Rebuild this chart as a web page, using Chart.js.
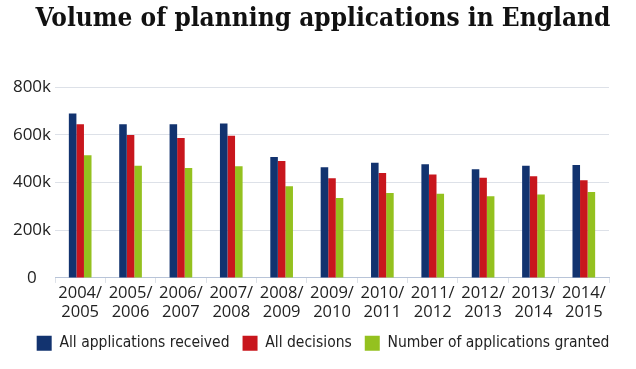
<!DOCTYPE html>
<html>
<head>
<meta charset="utf-8">
<script src="https://cdn.jsdelivr.net/npm/chart.js@4/dist/chart.umd.min.js"></script>
<style>
  html, body { margin: 0; padding: 0; background: #fff; }
  #wrap { width: 636px; height: 369px; position: relative; }
</style>
</head>
<body>
<div id="wrap"><canvas id="chart"></canvas></div>
<script>
// Volume of planning applications in England
const YEARS = [
  ['2004/', '2005'], ['2005/', '2006'], ['2006/', '2007'], ['2007/', '2008'],
  ['2008/', '2009'], ['2009/', '2010'], ['2010/', '2011'], ['2011/', '2012'],
  ['2012/', '2013'], ['2013/', '2014'], ['2014/', '2015']
];
const RECEIVED  = [690000, 645000, 645000, 648000, 507000, 464000, 483000, 477000, 456000, 471000, 474000];
const DECISIONS = [645000, 599000, 587000, 596000, 490000, 418000, 440000, 434000, 420000, 426000, 410000];
const GRANTED   = [515000, 471000, 461000, 468000, 385000, 335000, 356000, 353000, 343000, 350000, 360000];
const Y_TICKS   = [0, 200000, 400000, 600000, 800000];

const COL_BLUE  = '#12336f';
const COL_RED   = '#c8161d';
const COL_GREEN = '#94c11f';
const TXT = '#222222';
const GRID = '#dde1e8';

new Chart(document.getElementById('chart'), {
  type: 'bar',
  data: {
    labels: YEARS,
    datasets: [
      { label: 'All applications received', data: RECEIVED, backgroundColor: COL_BLUE },
      { label: 'All decisions', data: DECISIONS, backgroundColor: COL_RED },
      { label: 'Number of applications granted', data: GRANTED, backgroundColor: COL_GREEN },
    ],
  },
  options: {
    responsive: true,
    maintainAspectRatio: false,
    animation: false,
    datasets: { bar: { barPercentage: 1, categoryPercentage: 0.45 } },
    layout: { padding: { left: 10, right: 0, top: 4, bottom: 8 } },
    plugins: {
      title: {
        display: true,
        text: 'Volume of planning applications in England',
        color: '#111',
        font: { family: "'DejaVu Serif Condensed', 'DejaVu Serif', serif", size: 26, weight: 'bold' },
        padding: { top: 0, bottom: 52 },
      },
      legend: {
        position: 'bottom',
        labels: {
          color: TXT,
          boxWidth: 15,
          boxHeight: 15,
          padding: 13,
          font: { family: "'DejaVu Sans Condensed', sans-serif", size: 15.5 },
        },
      },
      tooltip: { enabled: false },
    },
    scales: {
      x: {
        grid: { drawOnChartArea: false, drawTicks: true, tickLength: 5, color: GRID, offset: true },
        border: { color: '#b8c4d8' },
        ticks: { color: TXT, font: { family: "'Open Sans', sans-serif", size: 16.5 }, maxRotation: 0, autoSkip: false, padding: 0 },
      },
      y: {
        min: 0,
        max: 800000,
        afterBuildTicks: axis => { axis.ticks = Y_TICKS.map(v => ({ value: v })); },
        afterFit: axis => { axis.width = 45; },
        grid: { color: GRID, drawTicks: false },
        border: { display: false },
        ticks: {
          color: TXT,
          font: { family: "'Open Sans', sans-serif", size: 17 },
          padding: 4,
          crossAlign: 'center',
          callback: v => v === 0 ? '0' : (v / 1000) + 'k',
        },
      },
      // eixo vazio à direita, só para reservar a margem
      yRight: {
        position: 'right',
        display: true,
        afterFit: axis => { axis.width = 27; },
        grid: { display: false },
        border: { display: false },
        ticks: { display: false },
      },
    },
  },
});
</script>
</body>
</html>
